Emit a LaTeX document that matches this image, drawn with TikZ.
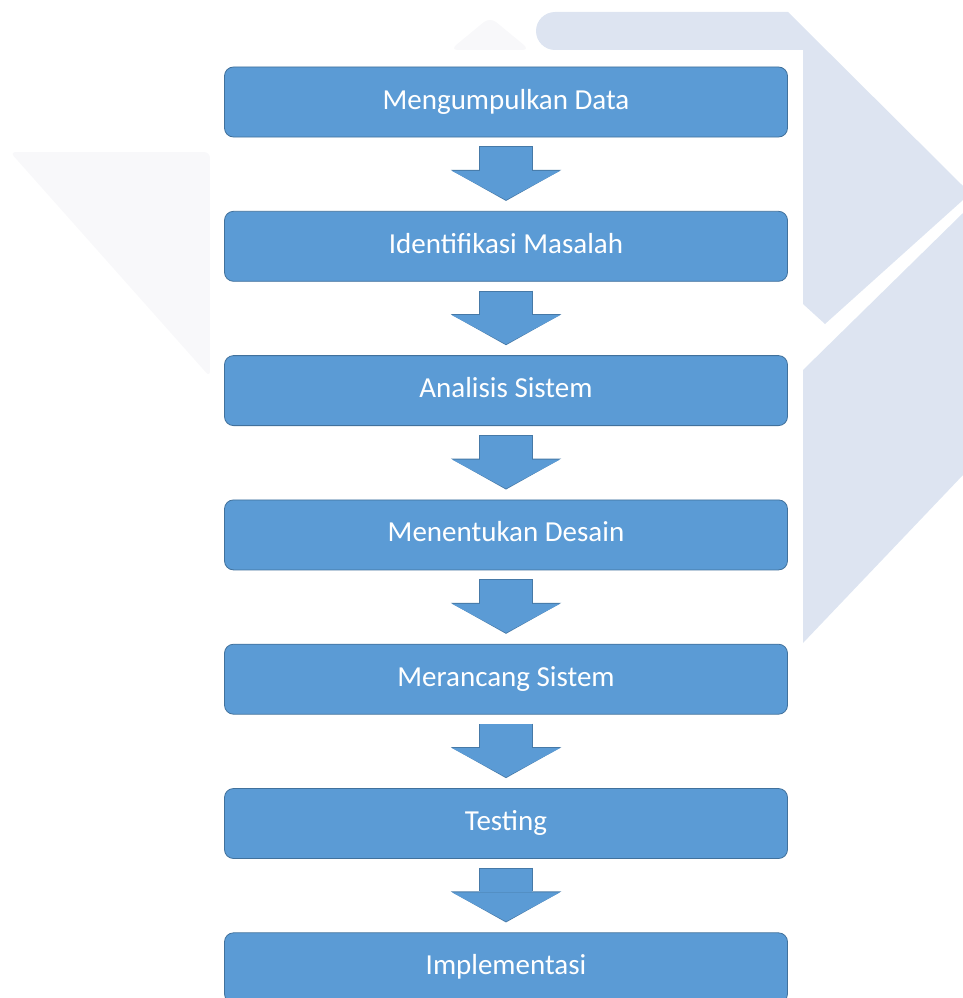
\documentclass[tikz,border=0pt]{standalone}
\usepackage{fontspec}
\setmainfont{Carlito}
\usetikzlibrary{arrows.meta,positioning}
\definecolor{birukotak}{HTML}{5B9BD5}
\definecolor{birugaris}{HTML}{41719C}
\definecolor{birulatar}{HTML}{DDE4F1}
\definecolor{abulatar}{HTML}{F8F8FA}
\tikzset{
  tahap/.style={
    rounded corners=9pt,
    draw=birugaris,
    line width=.8pt,
    fill=birukotak,
    text=white,
    align=center,
    minimum width=563pt,
    minimum height=70pt,
    text height=20pt,
    text depth=6pt,
    inner sep=0pt,
    font=\fontsize{29}{34}\selectfont
  },
  panah/.style={
    preaction={
      draw=birugaris!80!birukotak,
      line width=53.6pt,
      shorten <=9pt,
      shorten >=10pt,
      -{Triangle[width=110.5pt,length=31pt,line width=0pt]}
    },
    draw=birukotak,
    line width=52pt,
    shorten <=9.8pt,
    shorten >=11pt,
    -{Triangle[width=108pt,length=29pt,line width=0pt]}
  },
  latar/.style={
    fill=birulatar
  },
  latarpucat/.style={
    fill=abulatar
  }
}

\begin{document}
\begin{tikzpicture}[x=1pt,y=1pt,node distance=73.5pt]
\useasboundingbox (0,0) rectangle (963,-998);
% tanda air di belakang
\fill[latar] (555,-12) -- (788,-12) -- (963,-186) -- (963,-200) -- (825,-324) -- (803,-304) -- (803,-50) -- (555,-50) arc[start angle=270,end angle=90,radius=19] -- cycle;
\fill[latar] (803,-370) -- (963,-213) -- (963,-475) -- (803,-643) -- cycle;
\fill[latarpucat,rounded corners=6pt] (10,-152) -- (210,-152) -- (210,-377) -- cycle;
\fill[latarpucat,rounded corners=8pt] (450,-50) -- (490,-17) -- (530,-50) -- cycle;
\fill[white] (210,-50) rectangle (803,-998);
% tahapan
\node[tahap] (s1) at (506,-102) {Mengumpulkan Data};
\node[tahap,below=of s1] (s2) {Identifikasi Masalah};
\node[tahap,below=of s2] (s3) {Analisis Sistem};
\node[tahap,below=of s3] (s4) {Menentukan Desain};
\node[tahap,below=of s4] (s5) {Merancang Sistem};
\node[tahap,below=of s5] (s6) {Testing};
\node[tahap,below=of s6] (s7) {Implementasi};
\draw[panah] (s1) -- (s2);
\draw[panah] (s2) -- (s3);
\draw[panah] (s3) -- (s4);
\draw[panah] (s4) -- (s5);
\draw[panah] (s5) -- (s6);
\draw[panah] (s6) -- (s7);
\end{tikzpicture}
\end{document}
